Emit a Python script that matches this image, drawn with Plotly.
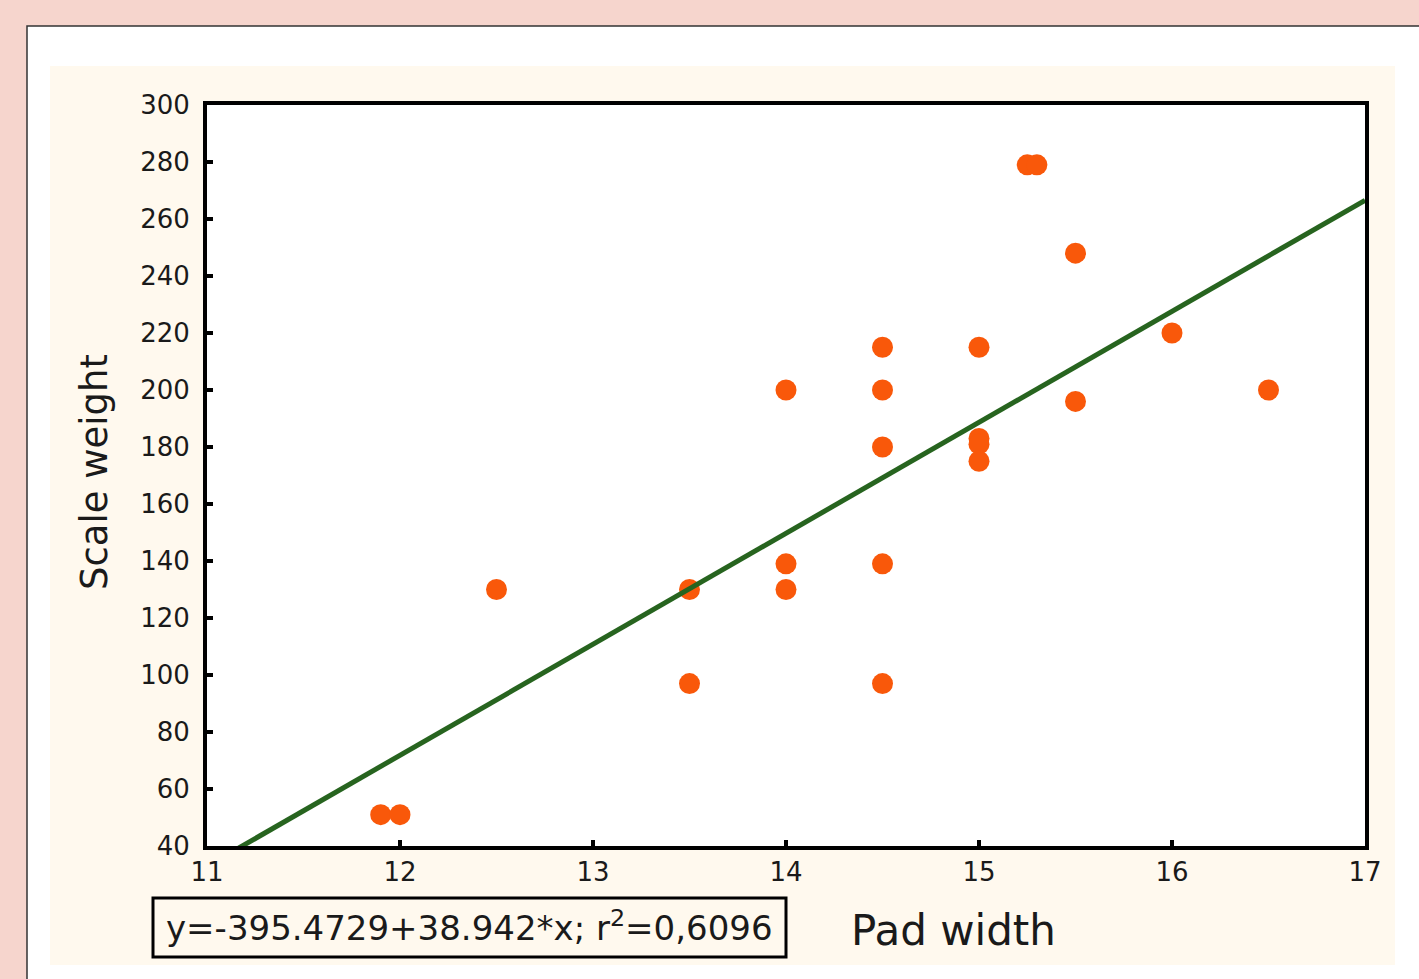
import plotly.graph_objects as go

# ---- data ----
pad_width = [11.9, 12.0, 12.5, 13.5, 13.5, 14.0, 14.0, 14.0, 14.5, 14.5, 14.5, 14.5, 14.5,
             15.0, 15.0, 15.0, 15.0, 15.25, 15.3, 15.5, 15.5, 16.0, 16.5]
scale_weight = [51, 51, 130, 130, 97, 200, 139, 130, 215, 200, 180, 139, 97,
                215, 183, 181, 175, 279, 279, 248, 196, 220, 200]
fit_intercept = -395.4729
fit_slope = 38.942
fit_x = [11.0, 17.0]
fit_y = [fit_intercept + fit_slope * v for v in fit_x]
x_ticks = [11, 12, 13, 14, 15, 16, 17]
y_ticks = [40, 60, 80, 100, 120, 140, 160, 180, 200, 220, 240, 260, 280, 300]
equation_text = "y=-395.4729+38.942*x; r<sup>2</sup>=0,6096"

W, H = 1419, 979


def px(x):
    return x / W


def py(y):
    return 1 - y / H


fig = go.Figure()

fig.add_trace(go.Scatter(
    x=pad_width, y=scale_weight, mode="markers",
    marker=dict(size=21, color="#F9580A", line=dict(width=0)),
    showlegend=False, hoverinfo="x+y"))

fig.add_trace(go.Scatter(
    x=fit_x, y=fit_y, mode="lines",
    line=dict(color="#27641F", width=5),
    showlegend=False, hoverinfo="skip"))

shapes = [
    # white panel with dark top/left edge
    dict(type="rect", xref="paper", yref="paper",
         x0=px(27), x1=px(1430), y0=py(990), y1=py(26),
         fillcolor="white", line=dict(color="#333333", width=1.5), layer="below"),
    # cream panel
    dict(type="rect", xref="paper", yref="paper",
         x0=px(50), x1=px(1395), y0=py(965), y1=py(66),
         fillcolor="#FFF9EE", line=dict(width=0), layer="below"),
    # plot area background
    dict(type="rect", xref="paper", yref="paper",
         x0=px(207), x1=px(1365), y0=py(846), y1=py(105),
         fillcolor="white", line=dict(width=0), layer="below"),
    # equation box
    dict(type="rect", xref="paper", yref="paper",
         x0=px(153), x1=px(786), y0=py(957), y1=py(898),
         fillcolor="rgba(0,0,0,0)", line=dict(color="black", width=3), layer="above"),
]

annotations = [
    dict(text="Scale weight", xref="paper", yref="paper", x=px(95), y=py(472),
         showarrow=False, textangle=-90,
         font=dict(family="DejaVu Sans", size=37, color="#1a1a1a"),
         xanchor="center", yanchor="middle"),
    dict(text="Pad width", xref="paper", yref="paper", x=px(953), y=py(930),
         showarrow=False,
         font=dict(family="DejaVu Sans", size=42, color="#1a1a1a"),
         xanchor="center", yanchor="middle"),
    dict(text=equation_text, xref="paper", yref="paper", x=px(469), y=py(926),
         showarrow=False,
         font=dict(family="DejaVu Sans", size=34, color="#1a1a1a"),
         xanchor="center", yanchor="middle"),
]

tickfont = dict(family="DejaVu Sans", size=26, color="#1a1a1a")

fig.update_layout(
    width=W, height=H,
    margin=dict(l=0, r=0, t=0, b=0, pad=0),
    paper_bgcolor="#F6D5CD",
    plot_bgcolor="white",
    shapes=shapes,
    annotations=annotations,
    xaxis=dict(range=[11, 17], domain=[px(207), px(1365)], automargin=False,
               tickvals=x_ticks, ticktext=[str(t) for t in x_ticks],
               showgrid=False, zeroline=False,
               showline=True, linecolor="black", linewidth=4, mirror=True,
               ticks="inside", ticklen=6, tickwidth=4, tickcolor="black",
               tickfont=tickfont, ticklabelstandoff=0),
    yaxis=dict(range=[40, 300], domain=[py(846), py(105)], automargin=False,
               tickvals=y_ticks, ticktext=[str(t) for t in y_ticks],
               showgrid=False, zeroline=False,
               showline=True, linecolor="black", linewidth=4, mirror=True,
               ticks="inside", ticklen=6, tickwidth=4, tickcolor="black",
               tickfont=tickfont, ticklabelstandoff=8),
    hovermode="closest",
)

fig.write_html("out.html", config={"displayModeBar": False},
               post_script="document.body.style.margin='0';document.body.style.overflow='hidden';")
